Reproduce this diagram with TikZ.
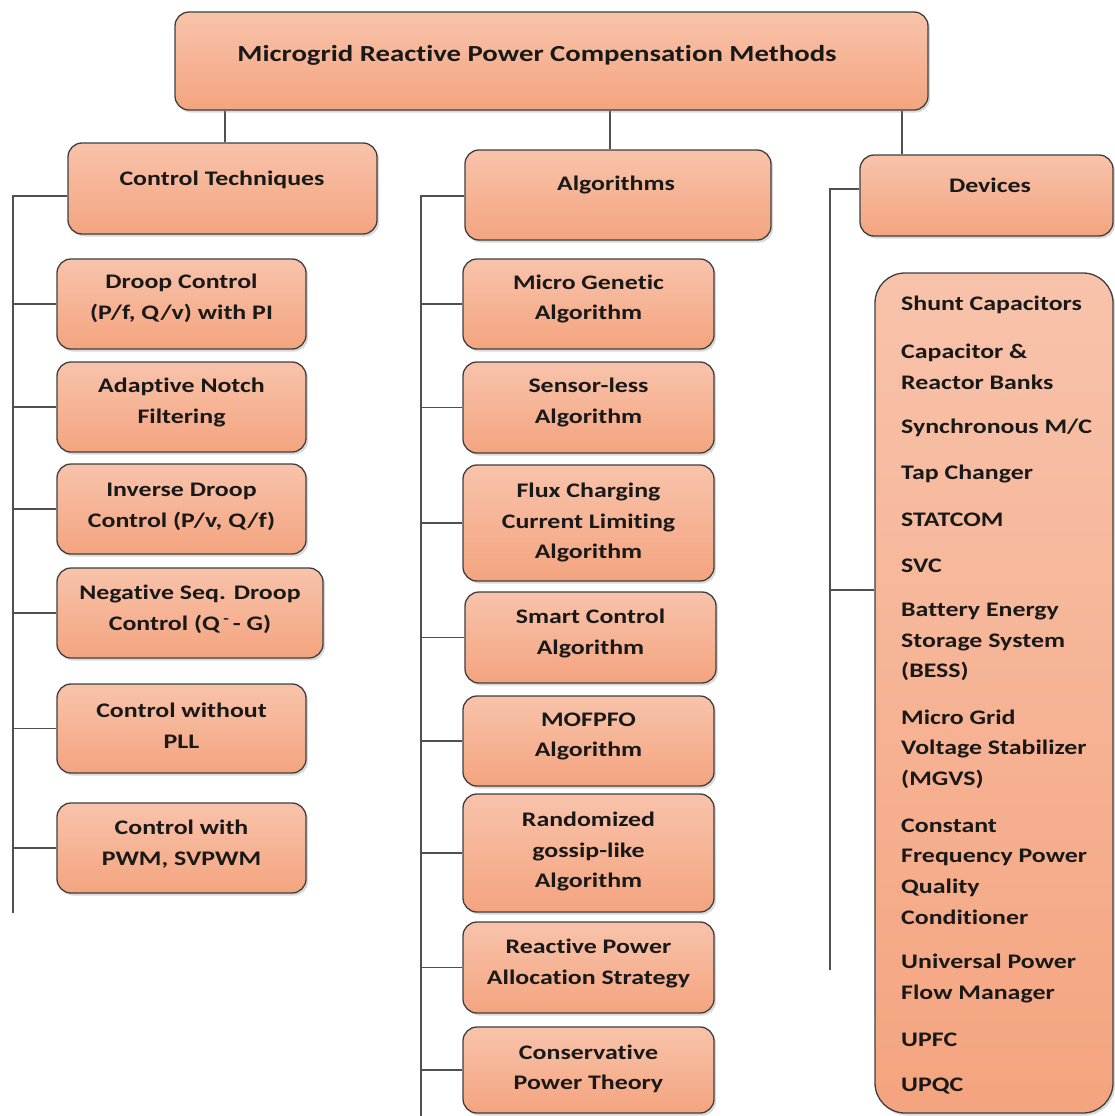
\documentclass[tikz,border=0pt]{standalone}
\usepackage{fontspec}
\setmainfont{Carlito}[FakeStretch=1.25, Ligatures={NoCommon}]
\usetikzlibrary{shadows,backgrounds}
\definecolor{topc}{HTML}{F8C3AB}
\definecolor{botc}{HTML}{F4A47F}
\definecolor{edgec}{HTML}{3F3F3F}
\definecolor{wirec}{HTML}{505050}
\tikzset{
 box/.style={draw=edgec, line width=1.3pt, rounded corners=14pt, top color=topc, bottom color=botc,
   drop shadow={shadow xshift=2pt, shadow yshift=-2.5pt, opacity=0.3}, inner sep=0pt},
 txt/.style={font=\bfseries\fontsize{20.7}{30.7}\selectfont, align=center, text=black!90, inner sep=0pt},
 ltxt/.style={txt, align=left, anchor=west},
 wire/.style={draw=wirec, line width=1.9pt},
}
\begin{document}
\begin{tikzpicture}[x=1pt,y=-1pt]
\useasboundingbox (0,0) rectangle (1115,1116);
% main boxes
\node[box, minimum width=753pt, minimum height=98pt] (title) at (551.5,61) {};
\node[txt, font=\bfseries\fontsize{23}{28}\selectfont] at (537,55) {Microgrid Reactive Power Compensation Methods};
\node[box, minimum width=309pt, minimum height=91pt] (ct) at (222.5,188.5) {};
\node[txt] at (222,180) {Control Techniques};
\node[box, minimum width=306pt, minimum height=90pt] (al) at (618,195) {};
\node[txt] at (616,185) {Algorithms};
\node[box, minimum width=253pt, minimum height=81pt] (dv) at (986.5,195.5) {};
\node[txt] at (990,185) {Devices};
% left items
\node[box, minimum width=249pt, minimum height=90pt] (l1) at (181.5,304) {};
\node[txt] at (181.5,298.5) {Droop Control\\(P/f, Q/v) with PI};
\node[box, minimum width=249pt, minimum height=90pt] (l2) at (181.5,407) {};
\node[txt] at (181.5,402.5) {Adaptive Notch\\Filtering};
\node[box, minimum width=249pt, minimum height=90pt] (l3) at (181.5,509) {};
\node[txt] at (181.5,506.5) {Inverse Droop\\Control (P/v, Q/f)};
\node[box, minimum width=266pt, minimum height=90pt] (l4) at (190,613) {};
\node[txt] at (190,609.5) {Negative Seq. Droop\\Control (Q\,\textsuperscript{-}\,- G)};
\node[box, minimum width=249pt, minimum height=89pt] (l5) at (181.5,728.5) {};
\node[txt] at (181.5,725.5) {Control without\\PLL};
\node[box, minimum width=249pt, minimum height=90pt] (l6) at (181.5,848) {};
\node[txt] at (181.5,844) {Control with\\PWM, SVPWM};
% middle items
\node[box, minimum width=251pt, minimum height=90pt] (m1) at (588.5,304) {};
\node[txt] at (588.5,299) {Micro Genetic\\Algorithm};
\node[box, minimum width=251pt, minimum height=91pt] (m2) at (588.5,407.5) {};
\node[txt] at (588.5,402.5) {Sensor-less\\Algorithm};
\node[box, minimum width=251pt, minimum height=116pt] (m3) at (588.5,523) {};
\node[txt] at (588.5,522.5) {Flux Charging\\Current Limiting\\Algorithm};
\node[box, minimum width=251pt, minimum height=91pt] (m4) at (590.5,637.5) {};
\node[txt] at (590.5,633.5) {Smart Control\\Algorithm};
\node[box, minimum width=251pt, minimum height=90pt] (m5) at (588.5,741) {};
\node[txt] at (588.5,736.5) {MOFPFO\\Algorithm};
\node[box, minimum width=251pt, minimum height=118pt] (m6) at (588.5,853) {};
\node[txt] at (588.5,851.5) {Randomized\\gossip-like\\Algorithm};
\node[box, minimum width=251pt, minimum height=91pt] (m7) at (588.5,967.5) {};
\node[txt] at (588.5,963.5) {Reactive Power\\Allocation Strategy};
\node[box, minimum width=251pt, minimum height=86pt] (m8) at (588.5,1070) {};
\node[txt] at (588.5,1069) {Conservative\\Power Theory};
% devices list
\node[box, rounded corners=30pt, minimum width=238pt, minimum height=840pt] (lst) at (994,693) {};
\node[ltxt] (d1) at (901,305) {Shunt Capacitors};
\node[ltxt] (d2) at (901,367) {Capacitor \&\\Reactor Banks};
\node[ltxt] (d3) at (901,428) {Synchronous M/C};
\node[ltxt] (d4) at (901,474) {Tap Changer};
\node[ltxt] (d5) at (901,520) {STATCOM};
\node[ltxt] (d6) at (901,566) {SVC};
\node[ltxt] (d7) at (901,642) {Battery Energy\\Storage System\\(BESS)};
\node[ltxt] (d8) at (901,749) {Micro Grid\\Voltage Stabilizer\\(MGVS)};
\node[ltxt] (d9) at (901,871.5) {Constant\\Frequency Power\\Quality\\Conditioner};
\node[ltxt] (d10) at (901,978.5) {Universal Power\\Flow Manager};
\node[ltxt] (d11) at (901,1040) {UPFC};
\node[ltxt] (d12) at (901,1086) {UPQC};
% connectors
\coordinate (k1) at (225,0);
\coordinate (k2) at (610,0);
\coordinate (k3) at (902,0);
\coordinate (lend) at (13,913);
\coordinate (mend) at (421,1116);
\coordinate (rend) at (830,970);
\coordinate (ctc) at (0,196);
\coordinate (alc) at (0,196);
\coordinate (dvc) at (0,189);
\coordinate (lstc) at (875,590);
\begin{scope}[on background layer]
\draw[wire] (title.south -| k1) -- (ct.north -| k1);
\draw[wire] (title.south -| k2) -- (al.north -| k2);
\draw[wire] (title.south -| k3) -- (dv.north -| k3);
\draw[wire] (ct.west |- ctc) -| (lend);
\draw[wire] (al.west |- alc) -| (mend);
\draw[wire] (dv.west |- dvc) -| (rend);
\foreach \n in {l1,l2,l3,l4,l5,l6} \draw[wire] (\n.west) -- (\n.west -| lend);
\foreach \n in {m1,m2,m3,m4,m5,m6,m7,m8} \draw[wire] (\n.west) -- (\n.west -| mend);
\draw[wire] (lst.west |- lstc) -- (lstc -| rend);
\end{scope}
\end{tikzpicture}
\end{document}
